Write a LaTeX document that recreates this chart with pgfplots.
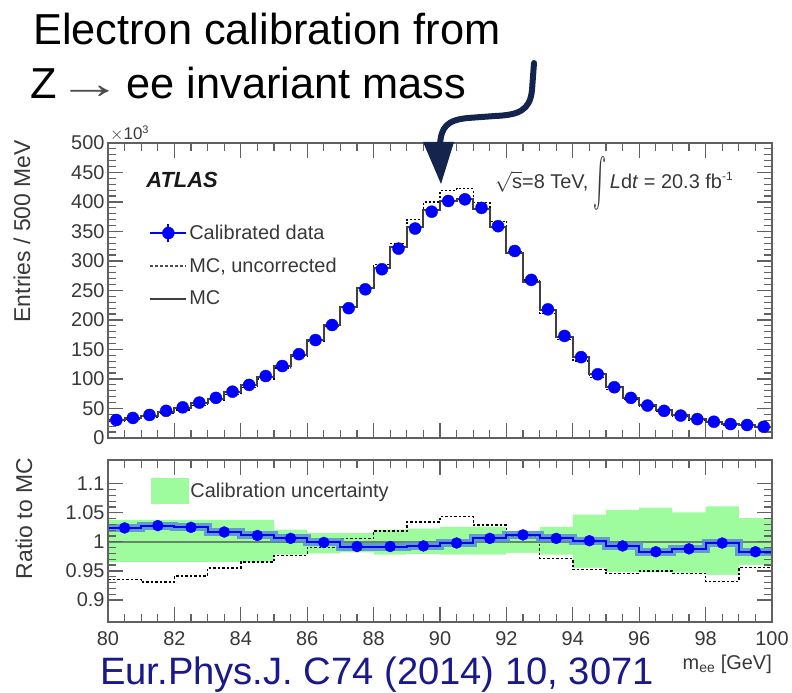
\documentclass[border=0pt]{standalone}
\usepackage{fontspec}
\setmainfont{Liberation Sans}
\usepackage{graphicx}
\usepackage{pgfplots}
\usepackage{pgfplotstable}
\pgfplotsset{compat=1.18}

\definecolor{databl}{rgb}{0,0,1}
\definecolor{bandgreen}{rgb}{0.62,0.99,0.62}
\definecolor{statbl}{rgb}{0.33,0.55,0.85}
\definecolor{arrownavy}{rgb}{0.08,0.14,0.30}
\definecolor{refnavy}{rgb}{0.10,0.10,0.55}
\definecolor{axgray}{rgb}{0.38,0.38,0.38}
\definecolor{txt}{rgb}{0.22,0.22,0.22}
\definecolor{unitline}{rgb}{0.42,0.52,0.42}

% calibrated data, 500 MeV bins (bin centres)
\pgfplotstableread{
x     y
80.25 30.5
80.75 34.0
81.25 39.0
81.75 46.0
82.25 52.0
82.75 60.0
83.25 68.0
83.75 78.5
84.25 90.0
84.75 105.0
85.25 122.0
85.75 142.0
86.25 166.0
86.75 191.5
87.25 220.0
87.75 252.0
88.25 286.0
88.75 321.0
89.25 355.0
89.75 383.6
90.25 401.7
90.75 404.5
91.25 390.0
91.75 359.0
92.25 317.0
92.75 268.0
93.25 218.0
93.75 173.0
94.25 137.0
94.75 108.0
95.25 86.0
95.75 68.0
96.25 55.0
96.75 46.0
97.25 38.0
97.75 32.0
98.25 27.6
98.75 23.7
99.25 22.0
99.75 19.0
}\datatab

% simulation histograms (lower bin edges, last edge repeated)
\pgfplotstableread{
x     mc    unc
80.0  29.8  27.8
80.5  33.2  31.0
81.0  37.9  35.3
81.5  44.7  41.6
82.0  50.7  47.7
82.5  58.5  55.1
83.0  66.9  63.9
83.5  77.2  73.8
84.0  89.1  85.9
84.5  104.0 100.2
85.0  121.3 118.4
85.5  141.2 137.8
86.0  166.2 164.3
86.5  191.7 189.6
87.0  221.8 222.9
87.5  254.0 255.3
88.0  288.3 293.9
88.5  323.6 329.9
89.0  357.5 370.0
89.5  386.3 399.8
90.0  402.5 419.6
90.5  405.3 422.5
91.0  387.7 398.9
91.5  356.9 367.2
92.0  313.2 316.3
92.5  264.8 267.5
93.0  216.7 210.6
93.5  172.0 167.2
94.0  136.7 130.3
94.5  107.8 102.7
95.0  86.6  81.9
95.5  68.5  64.8
96.0  56.0  53.3
96.5  46.8  44.6
97.0  38.5  36.4
97.5  32.4  30.6
98.0  27.7  25.8
98.5  23.7  22.1
99.0  22.4  21.4
99.5  19.3  18.5
100.0 19.3  18.5
}\mctab

% ratios in 1 GeV bins (lower bin edges, last edge repeated)
\pgfplotstableread{
x   r     hi    lo    unc
80  1.024 1.038 0.965 0.935
81  1.028 1.038 0.965 0.931
82  1.025 1.038 0.965 0.941
83  1.017 1.038 0.965 0.955
84  1.011 1.038 0.965 0.965
85  1.006 1.021 0.978 0.977
86  0.999 1.015 0.980 0.990
87  0.992 1.015 0.982 1.006
88  0.992 1.021 0.978 1.019
89  0.993 1.023 0.979 1.034
90  0.998 1.026 0.978 1.0435
91  1.006 1.026 0.978 1.029
92  1.012 1.019 0.981 1.010
93  1.006 1.026 0.978 0.971
94  1.002 1.047 0.955 0.952
95  0.993 1.055 0.948 0.946
96  0.983 1.059 0.948 0.950
97  0.988 1.051 0.947 0.946
98  0.998 1.061 0.943 0.932
99  0.983 1.041 0.960 0.956
100 0.983 1.041 0.960 0.956
}\ratiotab

% data/MC at the bin centres
\pgfplotstableread{
x    r
80.5 1.024
81.5 1.028
82.5 1.025
83.5 1.017
84.5 1.011
85.5 1.006
86.5 0.999
87.5 0.992
88.5 0.992
89.5 0.993
90.5 0.998
91.5 1.006
92.5 1.012
93.5 1.006
94.5 1.002
95.5 0.993
96.5 0.983
97.5 0.988
98.5 0.998
99.5 0.983
}\ratiopts

\pgfplotsset{
  atlasframe/.style={
    scale only axis,
    xmin=80, xmax=100,
    axis on top,
    axis line style={axgray, line width=1.6bp},
    every tick/.style={axgray, line width=1.2bp},
    tick align=inside,
    major tick length=15bp,
    minor tick length=8bp,
    xtick={80,82,...,100},
    minor x tick num=3,
    tick label style={font=\fontsize{20}{24}\selectfont, text=txt},
    /pgf/number format/assume math mode=true,
    scaled ticks=false,
  },
}

\begin{document}
\begin{tikzpicture}
\useasboundingbox (0bp,0bp) rectangle (792bp,693bp);

% ---------------- main panel ----------------
\begin{axis}[atlasframe,
  at={(108bp,255bp)}, anchor=south west,
  width=664bp, height=295bp,
  ymin=0, ymax=500,
  ytick={0,50,...,500},
  minor y tick num=4,
  xticklabels={},
  legend cell align=left,
  legend style={draw=none, fill=none, at={(axis cs:81.15,368)}, anchor=north west,
    font=\fontsize{20}{24}\selectfont, text=txt, row sep=13bp,
    /tikz/every even column/.style={column sep=8bp}},
]
\addplot[const plot, black, line width=1.4bp, dash pattern=on 2bp off 2bp, forget plot] table[x=x, y=unc] {\mctab};
\addplot[const plot, black!75, line width=2bp, forget plot] table[x=x, y=mc] {\mctab};
\addplot[only marks, mark=*, mark size=6bp, databl, forget plot] table[x=x, y=y] {\datatab};

\addlegendimage{legend image code/.code={
  \draw[databl, line width=2bp] (0bp,0bp) -- (36bp,0bp);
  \draw[databl, line width=2bp] (18bp,-9bp) -- (18bp,9bp);
  \fill[databl] (18bp,0bp) circle (6bp);}}
\addlegendentry{Calibrated data}
\addlegendimage{legend image code/.code={
  \draw[black!70, line width=1.8bp, dash pattern=on 2.5bp off 2.5bp] (0bp,0bp) -- (36bp,0bp);}}
\addlegendentry{MC, uncorrected}
\addlegendimage{legend image code/.code={
  \draw[black!75, line width=2bp] (0bp,0bp) -- (36bp,0bp);}}
\addlegendentry{MC}

\node[anchor=base west, font=\bfseries\itshape\fontsize{22}{26}\selectfont, text=black!90]
  at (axis cs:81.05,424) {ATLAS};
\node[anchor=west, font=\fontsize{20}{24}\selectfont, text=txt, inner sep=0pt]
  at (axis cs:91.65,432) {$\sqrt{\mbox{s}}$=8 TeV, \raisebox{-20bp}{\resizebox{13bp}{52bp}{$\int$}}\kern3bp\textit{L}d\textit{t} = 20.3 fb$^{\mbox{\fontsize{12}{14}\selectfont -1}}$};
\end{axis}

% ---------------- ratio panel ----------------
\begin{axis}[atlasframe,
  at={(108bp,71bp)}, anchor=south west,
  width=664bp, height=162bp,
  ymin=0.862, ymax=1.141,
  ytick={0.9,0.95,1,1.05,1.1},
  yticklabels={0.9,0.95,1,1.05,1.1},
  minor y tick num=4,
  xticklabel style={yshift=-6bp},
  legend cell align=left,
  legend style={draw=none, fill=none, at={(axis cs:81.2,1.113)}, anchor=north west,
    font=\fontsize{20}{24}\selectfont, text=txt,
    /tikz/every even column/.style={column sep=8bp}},
]
% calibration band: fill up to the upper edge, then blank out below the lower edge
\addplot[const plot, fill=bandgreen, draw=none, forget plot] table[x=x, y=hi] {\ratiotab} \closedcycle;
\addplot[const plot, fill=white, draw=none, forget plot] table[x=x, y=lo] {\ratiotab} \closedcycle;

\addplot[const plot, black, line width=1.4bp, dash pattern=on 2.5bp off 2bp, forget plot] table[x=x, y=unc] {\ratiotab};
\addplot[unitline, line width=2bp, forget plot] coordinates {(80,1) (100,1)};
\addplot[const plot, statbl, opacity=0.85, line width=8bp, forget plot] table[x=x, y=r] {\ratiotab};
\addplot[const plot, databl, line width=2bp, forget plot] table[x=x, y=r] {\ratiotab};
\addplot[only marks, mark=*, mark size=5.5bp, databl, forget plot] table[x=x, y=r] {\ratiopts};

\addlegendimage{legend image code/.code={
  \fill[bandgreen] (0bp,-12.5bp) rectangle (37bp,12.5bp);}}
\addlegendentry{Calibration uncertainty}
\end{axis}

% axis titles
\node[rotate=90, anchor=east, font=\fontsize{23}{27}\selectfont, text=txt, inner sep=0pt]
  at (22bp,553bp) {Entries / 500 MeV};
\node[rotate=90, anchor=east, font=\fontsize{23}{27}\selectfont, text=txt, inner sep=0pt]
  at (24bp,235bp) {Ratio to MC};
\node[anchor=south west, font=\fontsize{17}{20}\selectfont, text=txt, inner sep=0pt]
  at (110bp,552bp) {$\times$10$^{\mbox{\fontsize{11}{13}\selectfont 3}}$};
\node[anchor=base east, font=\fontsize{20}{24}\selectfont, text=txt, inner sep=0pt]
  at (772bp,24bp) {m\textsubscript{ee} [GeV]};

% headline and pointer to the peak
\node[anchor=base west, font=\fontsize{43.5}{52}\selectfont, inner sep=0pt]
  at (33bp,648bp) {Electron calibration from};
\node[anchor=base west, font=\fontsize{43.5}{52}\selectfont, inner sep=0pt]
  at (30bp,594bp) {Z\kern13bp\makebox[40bp]{\color{black!70}\scalebox{1.5}[1]{→}}\kern17bp ee invariant mass};
\draw[arrownavy, line width=6bp, line cap=round]
  (534bp,630bp) -- (532bp,603bp) .. controls (530bp,582bp) and (518bp,578bp) .. (495bp,577bp)
  -- (468bp,575bp) .. controls (447bp,573bp) and (441bp,566bp) .. (440bp,548bp);
\fill[arrownavy] (423bp,551bp) -- (454bp,551bp) -- (441bp,509bp) -- cycle;

% reference
\node[anchor=base west, font=\fontsize{38.3}{46}\selectfont, text=refnavy, inner sep=0pt]
  at (100bp,9bp) {Eur.Phys.J. C74 (2014) 10, 3071};
\end{tikzpicture}
\end{document}
